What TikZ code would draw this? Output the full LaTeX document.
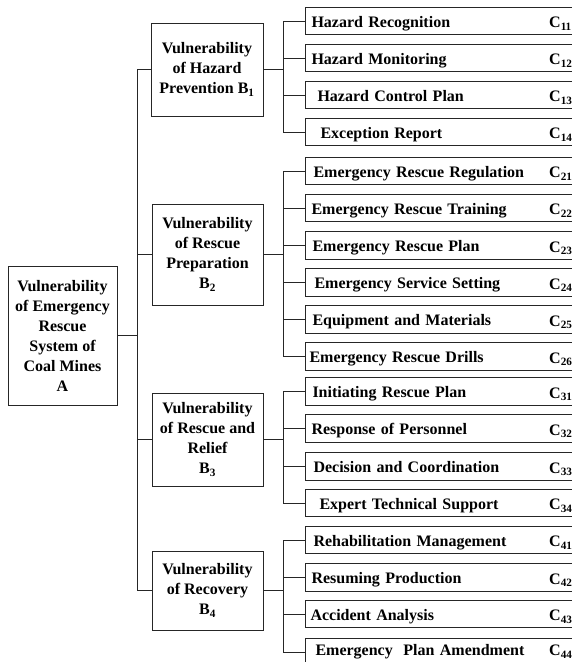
\documentclass[tikz,border=0pt]{standalone}
\usepackage{fontspec}
\setmainfont{Liberation Serif}
\begin{document}
\begin{tikzpicture}[x=1pt,y=-1pt,
  every node/.style={font=\fontsize{16}{20}\selectfont\bfseries, inner sep=0pt},
  box/.style={draw=black!85, line width=1pt, align=center},
  cbox/.style={draw=black!85, line width=1pt, anchor=west, minimum width=275pt,
    minimum height=27.5pt, text width=263pt, align=left, inner xsep=6pt,
    text height=12.4pt, text depth=0pt},
  ctag/.style={anchor=west, text height=12.4pt, text depth=0pt, yshift=-0.5pt},
  raised/.style={text depth=6pt},
  link/.style={draw=black!85, line width=1pt}]
\useasboundingbox (0,0) rectangle (572,662);
\clip (0,0) rectangle (572,662);

% top level
\node[box, minimum width=109pt, minimum height=139pt] (A) at (62.5,335.5)
  {Vulnerability\\of Emergency\\Rescue\\System of\\Coal Mines\\A};

% second level
\node[box, minimum width=112pt, minimum height=93pt] (B1) at (207,69.5)
  {Vulnerability\\of Hazard\\Prevention B\textsubscript{1}};
\node[box, minimum width=111pt, minimum height=101pt] (B2) at (207.5,254.5)
  {Vulnerability\\of Rescue\\Preparation\\B\textsubscript{2}};
\node[box, minimum width=111pt, minimum height=93pt] (B3) at (207.5,439.5)
  {Vulnerability\\of Rescue and\\Relief\\B\textsubscript{3}};
\node[box, minimum width=111pt, minimum height=79pt] (B4) at (207.5,590.5)
  {Vulnerability\\of Recovery\\B\textsubscript{4}};

% third level
\node[cbox] (C11) at (305,21)    {Hazard Recognition};
\node[cbox] (C12) at (305,58)    {Hazard Monitoring};
\node[cbox] (C13) at (305,95)    {\hspace{6pt}Hazard Control Plan};
\node[cbox] (C14) at (305,132)   {\hspace{9pt}Exception Report};
\node[cbox] (C21) at (305,171)   {\hspace{2pt}Emergency Rescue Regulation};
\node[cbox] (C22) at (305,208)   {Emergency Rescue Training};
\node[cbox] (C23) at (305,245.5) {\hspace{1pt}Emergency Rescue Plan};
\node[cbox] (C24) at (305,282.5) {\hspace{3pt}Emergency Service Setting};
\node[cbox] (C25) at (305,319.5) {\hspace{1pt}Equipment and Materials};
\node[cbox] (C26) at (305,356.5) {\hspace{-2pt}Emergency Rescue Drills};
\node[cbox] (C31) at (305,391.5) {\hspace{1pt}Initiating Rescue Plan};
\node[cbox] (C32) at (305,428.5) {Response of Personnel};
\node[cbox] (C33) at (305,466.5) {\hspace{2pt}Decision and Coordination};
\node[cbox] (C34) at (305,503)   {\hspace{8pt}Expert Technical Support};
\node[cbox] (C41) at (305,540)   {\hspace{2pt}Rehabilitation Management};
\node[cbox] (C42) at (305,577.5) {Resuming Production};
\node[cbox] (C43) at (305,614)   {\hspace{-1pt}Accident Analysis};
\node[cbox, raised] (C44) at (305,652) {\hspace{4pt}Emergency\ \ Plan Amendment};

% codes
\foreach \g/\n in {1/1,1/2,1/3,1/4,2/1,2/2,2/3,2/4,2/5,2/6,3/1,3/2,3/3,3/4,4/1,4/2,4/3}
  \node[ctag] (t\g\n) at (549,0 |- C\g\n.west) {C\textsubscript{\g\n}};
\node[ctag, raised] (t44) at (549,0 |- C44.west) {C\textsubscript{44}};

% spine from A to the B boxes
\coordinate (spine) at (137,0);
\draw[link] (A.east) -- (A.east -| spine);
\draw[link] (B1.west) -- (B1.west -| spine) -- (B4.west -| spine) -- (B4.west);
\draw[link] (B2.west) -- (B2.west -| spine);
\draw[link] (B3.west) -- (B3.west -| spine);

% brackets from each B box to its C boxes
\coordinate (bx) at (283,0);
\foreach \b/\first/\last/\mids in {1/C11/C14/{C12,C13},
                                  2/C21/C26/{C22,C23,C24,C25},
                                  3/C31/C34/{C32,C33},
                                  4/C41/C44/{C42,C43}} {
  \draw[link] (B\b.east) -- (B\b.east -| bx);
  \draw[link] (\first.west) -- (\first.west -| bx) -- (\last.west -| bx) -- (\last.west);
  \foreach \m in \mids
    \draw[link] (\m.west) -- (\m.west -| bx);
}
\end{tikzpicture}
\end{document}
